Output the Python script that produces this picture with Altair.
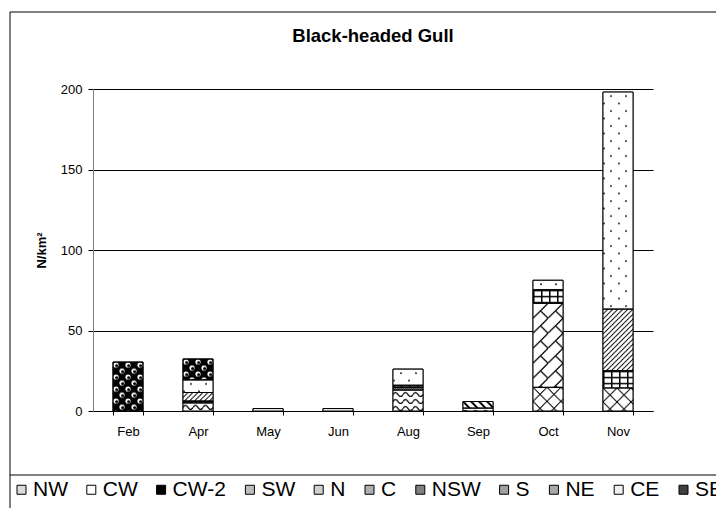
import altair as alt
import pandas as pd
from urllib.parse import quote

# ---------------- data ----------------
months = ["Feb", "Apr", "May", "Jun", "Aug", "Sep", "Oct", "Nov"]
series = ["NW", "CW", "CW-2", "SW", "N", "C", "NSW", "S", "NE", "CE", "SE"]

NW   = [0,    0,    0,   0,   0,    0,   14.7, 14.3]
CW   = [0,    0,    1.5, 1.5, 0,    0,   0,    0]
CW2  = [0,    0,    0,   0,   0,    0,   0,    0]
SW   = [0,    5.0,  0,   0,   13.0, 1.8, 0,    0]
N    = [0,    0,    0,   0,   0,    0,   52.2, 0]
C    = [0,    0,    0,   0,   0,    4.1, 0,    0]
NSW  = [0,    0,    0,   0,   1.5,  0,   0,    0]
S    = [0,    1.2,  0,   0,   1.5,  0,   8.4,  10.7]
NE   = [0,    5.3,  0,   0,   0,    0,   0,    38.3]
CE   = [0,    7.8,  0,   0,   10.0, 0,   5.9,  134.8]
SE   = [30.4, 13.0, 0,   0,   0,    0,   0,    0]

series_values = {"NW": NW, "CW": CW, "CW-2": CW2, "SW": SW, "N": N, "C": C,
                 "NSW": NSW, "S": S, "NE": NE, "CE": CE, "SE": SE}

# ---------------- styles ----------------
FONT = "Liberation Sans, Arial, sans-serif"

# approximate grey of each hatch (used for legend swatches)
GREYS = ["#dcdcdc", "#ffffff", "#000000", "#bdbdbd", "#cfcfcf", "#b0b0b0",
         "#808080", "#a0a0a0", "#a8a8a8", "#f0f0f0", "#404040"]

PATTERN_TILES = {
    "NW":   (14, 14, "<path d='M0,0L14,14M14,0L0,14' stroke='black' stroke-width='1' fill='none'/>"),
    "CW":   (8, 8, ""),
    "CW-2": (8, 8, "<rect width='8' height='8' fill='black'/>"),
    "SW":   (10, 7, "<path d='M0,4.5Q2.5,0.5 5,4.5T10,4.5' stroke='black' stroke-width='1.3' fill='none'/>"),
    "N":    (15, 15, "<path d='M0,15L15,0M7.5,7.5L15,15' stroke='black' stroke-width='1.2' fill='none'/>"),
    "C":    (8, 8, "<path d='M0,0L8,8M-4,4L4,12M4,-4L12,4' stroke='black' stroke-width='2' fill='none'/>"),
    "NSW":  (2, 2, "<rect width='1' height='1' fill='black'/><rect x='1' y='1' width='1' height='1' fill='black'/>"),
    "S":    (8, 6, "<path d='M0,0.75H8M0.75,0V6' stroke='black' stroke-width='1.5' fill='none'/>"),
    "NE":   (5, 5, "<path d='M0,5L5,0M-1,1L1,-1M4,6L6,4' stroke='black' stroke-width='1' fill='none'/>"),
    "CE":   (15, 15, "<circle cx='8' cy='4' r='0.9' fill='black'/><circle cx='1' cy='11.5' r='0.9' fill='black'/>"),
    "SE":   (12, 12, "<rect width='12' height='12' fill='black'/>"
                     "<circle cx='3' cy='3' r='2.6' fill='white'/><circle cx='9' cy='9' r='2.6' fill='white'/>"
                     "<circle cx='3.6' cy='3.6' r='1.5' fill='black'/><circle cx='9.6' cy='9.6' r='1.5' fill='black'/>"),
}


def pattern_url(name):
    w, h, inner = PATTERN_TILES[name]
    svg = ("<svg xmlns='http://www.w3.org/2000/svg' width='100%' height='100%'>"
           f"<defs><pattern id='p' x='0' y='0' width='{w}' height='{h}' patternUnits='userSpaceOnUse'>{inner}</pattern></defs>"
           "<rect width='100%' height='100%' fill='white'/>"
           "<rect width='100%' height='100%' fill='url(#p)'/></svg>")
    return "data:image/svg+xml," + quote(svg, safe="")


rows = []
for i, s in enumerate(series):
    for m, v in zip(months, series_values[s]):
        rows.append({"month": m, "series": s, "value": v, "order": i, "url": pattern_url(s)})
df = pd.DataFrame(rows)

# ---------------- chart ----------------
base = alt.Chart(df).transform_filter("datum.value > 0").transform_stack(
    stack="value", groupby=["month"], as_=["y0", "y1"],
    sort=[alt.SortField(field="order", order="ascending")])

x_enc = alt.X("month:N", sort=months, title=None,
              scale=alt.Scale(paddingInner=4 / 7, paddingOuter=2 / 7),
              axis=alt.Axis(tickBand="extent", labelAngle=0, labelFontSize=13, labelFont=FONT,
                            labelColor="black", tickColor="black", tickSize=4,
                            domainColor="black", labelPadding=10, grid=False))
y_enc = alt.Y("y1:Q", title="N/km²",
              scale=alt.Scale(domain=[0, 200], nice=False),
              axis=alt.Axis(values=[0, 50, 100, 150, 200], labelFontSize=13, labelFont=FONT,
                            labelColor="black", tickColor="black", tickSize=5, labelPadding=6,
                            domainColor="#808080", grid=True, gridColor="black", gridWidth=1,
                            titleFontSize=13, titleFontWeight="bold", titleFont=FONT,
                            titleColor="black", titlePadding=12))

bars = base.mark_bar(stroke="black", strokeWidth=1).encode(
    x=x_enc, y=y_enc, y2="y0",
    color=alt.Color("series:N", scale=alt.Scale(domain=series, range=GREYS),
                    legend=alt.Legend(orient="none", legendX=-82, legendY=390,
                                      direction="horizontal", title=None,
                                      symbolType="square", symbolSize=81,
                                      symbolStrokeColor="black", symbolStrokeWidth=1,
                                      labelFontSize=21, labelFont=FONT, labelColor="black",
                                      labelOffset=1, columnPadding=12.8, padding=0)))

imgs = base.mark_image(aspect=False).encode(x=x_enc, y=y_enc, y2="y0", url="url:N")

outline = base.mark_bar(fillOpacity=0, stroke="black", strokeWidth=1).encode(
    x=x_enc, y=y_enc, y2="y0")

deco = pd.DataFrame({"k": [0]})
top_line = alt.Chart(deco).mark_rule(color="black", strokeWidth=1).encode(
    x=alt.value(-83), x2=alt.value(623), y=alt.value(-77))
left_line = alt.Chart(deco).mark_rule(color="black", strokeWidth=1).encode(
    x=alt.value(-83), y=alt.value(-77), y2=alt.value(419))
legend_line = alt.Chart(deco).mark_rule(color="black", strokeWidth=1).encode(
    x=alt.value(-83), x2=alt.value(623), y=alt.value(386))

chart = alt.layer(bars, imgs, outline, top_line, left_line, legend_line).properties(
    width=560, height=322,
    title=alt.TitleParams("Black-headed Gull", fontSize=18.5, fontWeight="bold", font=FONT,
                          color="black", anchor="middle", offset=0, dy=49,
                          baseline="alphabetic"),
    padding={"left": 85, "top": 81, "right": 63, "bottom": 97},
    autosize=alt.AutoSizeParams(type="none"),
).configure_view(strokeWidth=0)

chart.save("out.html", embed_options={"renderer": "svg", "actions": False})
